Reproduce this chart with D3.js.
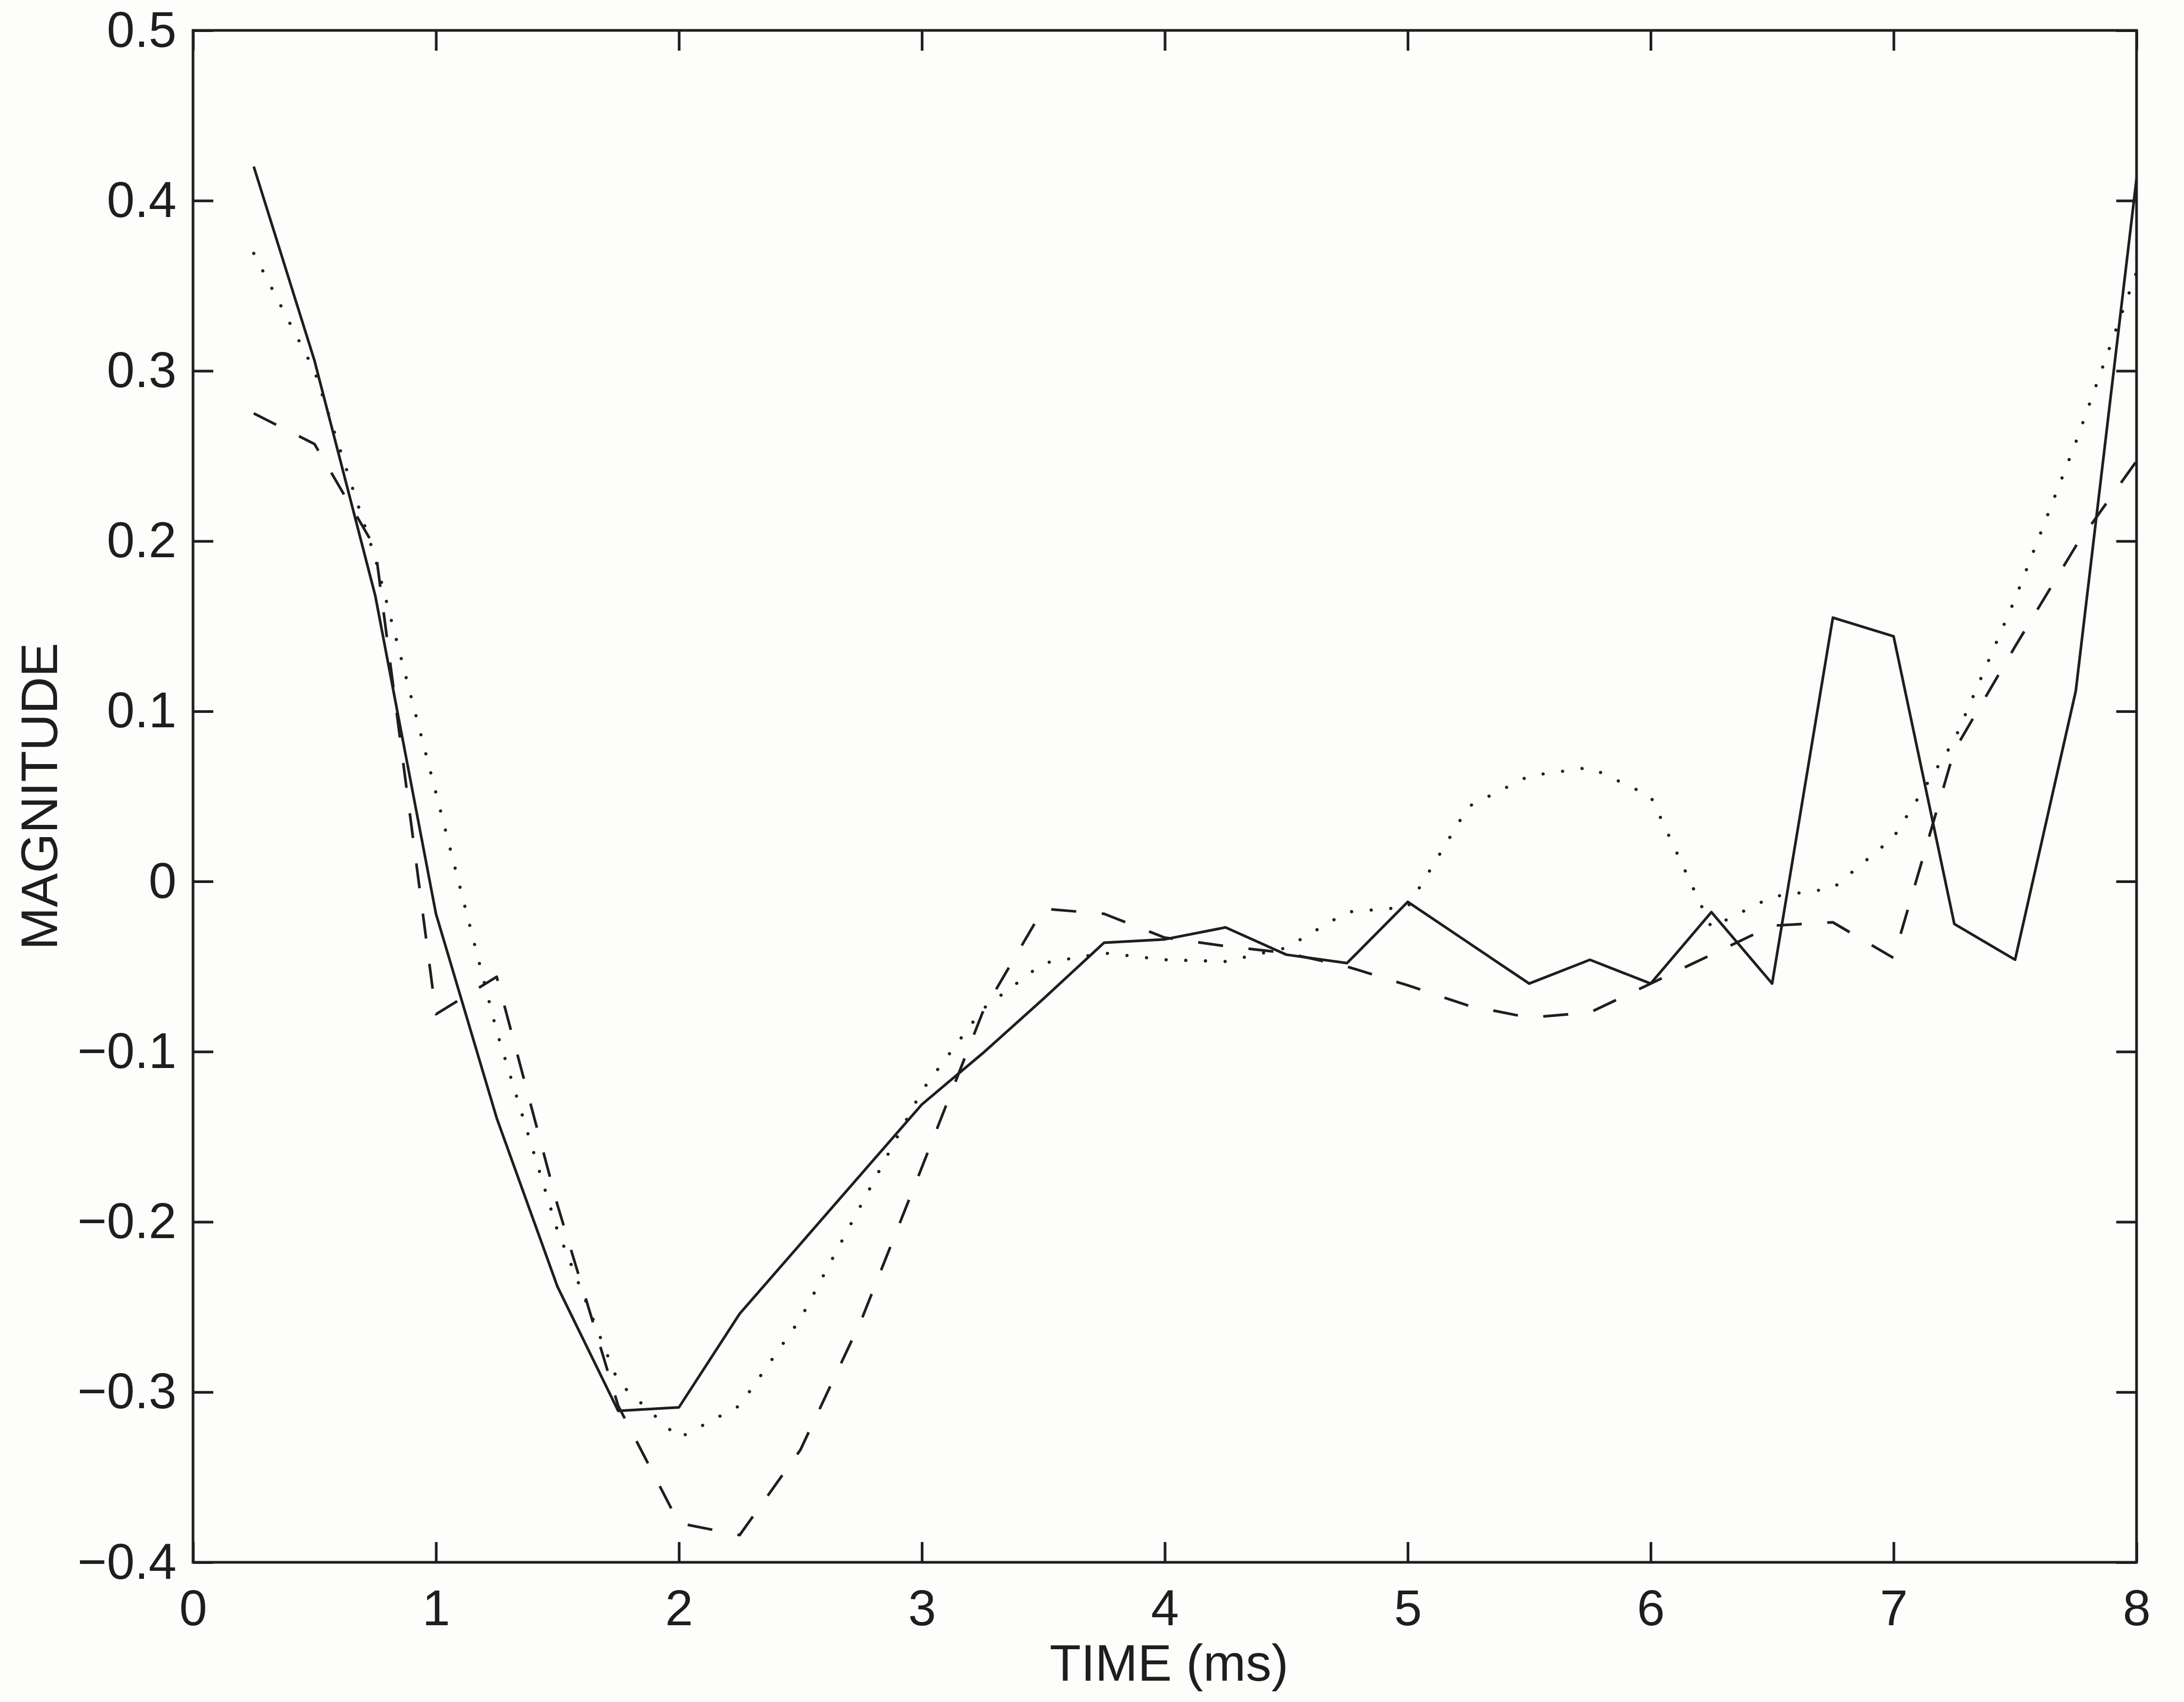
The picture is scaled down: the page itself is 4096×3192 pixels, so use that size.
<!DOCTYPE html>
<html>
<head>
<meta charset="utf-8">
<script src="https://cdn.jsdelivr.net/npm/d3@7"></script>
<style>
  html, body { margin: 0; padding: 0; background: #fdfdfb; }
  svg { display: block; }
</style>
</head>
<body>
<svg id="chart"></svg>
<script>
// sample times (ms), one sample every 0.25 ms
var times = [0.25, 0.5, 0.75, 1.0, 1.25, 1.5, 1.75, 2.0, 2.25, 2.5, 2.75, 3.0,
  3.25, 3.5, 3.75, 4.0, 4.25, 4.5, 4.75, 5.0, 5.25, 5.5, 5.75, 6.0,
  6.25, 6.5, 6.75, 7.0, 7.25, 7.5, 7.75, 8.0];

// solid curve
var solidValues = [0.420, 0.306, 0.168, -0.019, -0.139, -0.238, -0.311, -0.309,
  -0.254, -0.213, -0.172, -0.131, -0.101, -0.069, -0.036, -0.034,
  -0.027, -0.043, -0.048, -0.012, -0.036, -0.060, -0.046, -0.060,
  -0.018, -0.060, 0.155, 0.144, -0.025, -0.046, 0.112, 0.413];

// dashed curve
var dashedValues = [0.275, 0.257, 0.196, -0.078, -0.056, -0.190, -0.308, -0.377,
  -0.384, -0.334, -0.258, -0.168, -0.077, -0.016, -0.019, -0.033,
  -0.038, -0.042, -0.050, -0.061, -0.073, -0.080, -0.077, -0.060,
  -0.043, -0.026, -0.024, -0.045, 0.077, 0.138, 0.197, 0.247];

// dotted curve
var dottedValues = [0.369, 0.300, 0.190, 0.052, -0.088, -0.205, -0.294, -0.327,
  -0.308, -0.257, -0.190, -0.123, -0.075, -0.048, -0.042, -0.046,
  -0.047, -0.039, -0.018, -0.015, 0.044, 0.062, 0.067, 0.050,
  -0.027, -0.009, -0.004, 0.026, 0.083, 0.166, 0.258, 0.358];

// axis ticks and their labels
var xTicks = [0, 1, 2, 3, 4, 5, 6, 7, 8];
var xTickLabels = ['0', '1', '2', '3', '4', '5', '6', '7', '8'];
var yTicks = [0.5, 0.4, 0.3, 0.2, 0.1, 0, -0.1, -0.2, -0.3, -0.4];
var yTickLabels = ['0.5', '0.4', '0.3', '0.2', '0.1', '0', '\u22120.1', '\u22120.2', '\u22120.3', '\u22120.4'];

var xTitle = 'TIME (ms)';
var yTitle = 'MAGNITUDE';

// Setup the size and plot frame
var width = 4096;
var height = 3192;
var frame = { left: 362, right: 4007, top: 57, bottom: 2930 };
var ink = '#1e1e1e';
var font = '"Liberation Sans", Arial, Helvetica, sans-serif';
var tickLen = 38;
var stroke = 5;

var svg = d3.select('#chart')
  .attr('width', width)
  .attr('height', height);

svg.append('rect')
  .attr('width', width)
  .attr('height', height)
  .attr('fill', '#fdfdfb');

// Create the scales
var xScale = d3.scaleLinear()
  .domain([0, 8])
  .range([frame.left, frame.right]);

var yScale = d3.scaleLinear()
  .domain([-0.4, 0.5])
  .range([frame.bottom, frame.top]);

// Axes: ticks point into the plot on all four sides
function styleAxis(g) {
  g.attr('color', ink)
    .attr('font-family', font)
    .attr('font-size', 94);
  g.select('.domain').remove();
  g.selectAll('.tick line').attr('stroke-width', stroke);
  g.selectAll('.tick text').attr('fill', ink);
}

svg.append('g')
  .attr('class', 'x axis')
  .attr('transform', `translate(0, ${frame.bottom})`)
  .call(d3.axisBottom(xScale)
    .tickValues(xTicks)
    .tickFormat((d, i) => xTickLabels[i])
    .tickSizeInner(-tickLen)
    .tickSizeOuter(0)
    .tickPadding(51))
  .call(styleAxis);

svg.append('g')
  .attr('class', 'x axis top')
  .attr('transform', `translate(0, ${frame.top})`)
  .call(d3.axisTop(xScale)
    .tickValues(xTicks)
    .tickFormat('')
    .tickSizeInner(-tickLen)
    .tickSizeOuter(0))
  .call(styleAxis);

svg.append('g')
  .attr('class', 'y axis')
  .attr('transform', `translate(${frame.left}, 0)`)
  .call(d3.axisLeft(yScale)
    .tickValues(yTicks)
    .tickFormat((d, i) => yTickLabels[i])
    .tickSizeInner(-tickLen)
    .tickSizeOuter(0)
    .tickPadding(31))
  .call(styleAxis);

svg.append('g')
  .attr('class', 'y axis right')
  .attr('transform', `translate(${frame.right}, 0)`)
  .call(d3.axisRight(yScale)
    .tickValues(yTicks)
    .tickFormat('')
    .tickSizeInner(-tickLen)
    .tickSizeOuter(0))
  .call(styleAxis);

// plot box
svg.append('rect')
  .attr('x', frame.left)
  .attr('y', frame.top)
  .attr('width', frame.right - frame.left)
  .attr('height', frame.bottom - frame.top)
  .attr('fill', 'none')
  .attr('stroke', ink)
  .attr('stroke-width', stroke);

// Create the lines
var line = d3.line()
  .x(d => xScale(d.time))
  .y(d => yScale(d.value));

var series = [
  { name: 'solid', values: solidValues, dash: null, cap: 'butt', width: stroke },
  { name: 'dashed', values: dashedValues, dash: '47 48', cap: 'butt', width: stroke },
  { name: 'dotted', values: dottedValues, dash: '0.1 36.8', cap: 'round', width: 6 }
];

var lines = svg.append('g')
  .attr('class', 'lines');

lines.selectAll('.line')
  .data(series).enter()
  .append('path')
  .attr('class', d => 'line ' + d.name)
  .attr('d', d => line(d.values.map((v, i) => ({ time: times[i], value: v }))))
  .attr('fill', 'none')
  .attr('stroke', ink)
  .attr('stroke-width', d => d.width)
  .attr('stroke-linecap', d => d.cap)
  .attr('stroke-linejoin', 'round')
  .attr('stroke-dasharray', d => d.dash);

// axis titles
svg.append('text')
  .attr('x', (frame.left + frame.right) / 2 + 8)
  .attr('y', 3152)
  .attr('text-anchor', 'middle')
  .attr('font-family', font)
  .attr('font-size', 96)
  .attr('fill', ink)
  .text(xTitle);

svg.append('text')
  .attr('transform', `translate(107, ${(frame.top + frame.bottom) / 2}) rotate(-90)`)
  .attr('text-anchor', 'middle')
  .attr('font-family', font)
  .attr('font-size', 96)
  .attr('fill', ink)
  .text(yTitle);
</script>
</body>
</html>
